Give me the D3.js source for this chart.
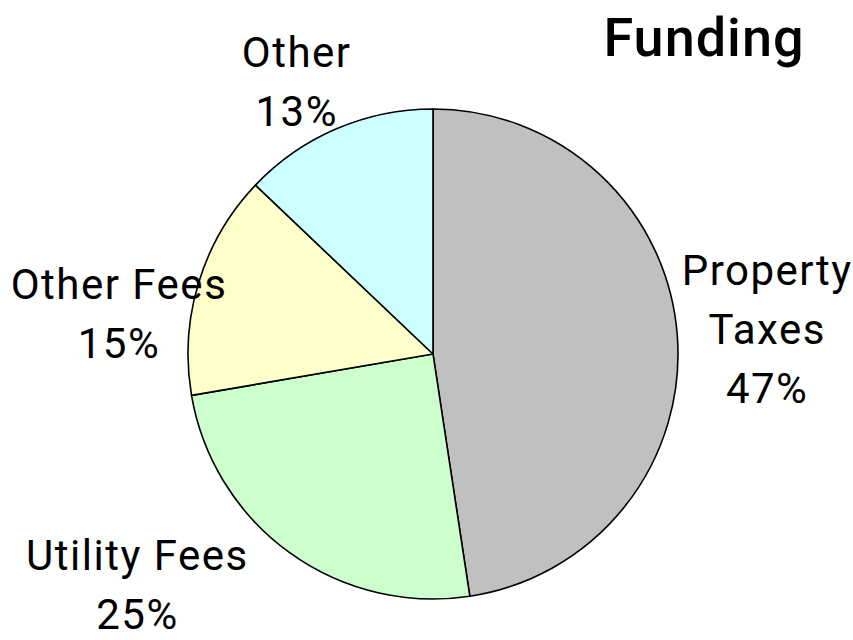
<!DOCTYPE html>
<html>
<head>
<meta charset="utf-8">
<script src="https://cdn.jsdelivr.net/npm/d3@7/dist/d3.min.js"></script>
<style>
  html, body { margin: 0; padding: 0; background: #fff; }
  svg { display: block; }
  text { font-family: Roboto, "Noto Sans", sans-serif; fill: #000; }
</style>
</head>
<body>
<svg id="chart" width="853" height="640"></svg>
<script>
// ---- data ----
const categories = ["Property Taxes", "Utility Fees", "Other Fees", "Other"];
const values = [47.6, 24.7, 14.8, 12.9];
const pctLabels = ["47%", "25%", "15%", "13%"];
const labelLines = [["Property", "Taxes"], ["Utility Fees"], ["Other Fees"], ["Other"]];
const colors = ["#C0C0C0", "#CCFFCC", "#FFFFCC", "#CCFFFF"];
const title = "Funding";

// ---- layout ----
const W = 853, H = 640;
const cx = 433, cy = 354, R = 245;
const svg = d3.select("#chart");

svg.append("text")
  .attr("x", 704).attr("y", 56)
  .attr("text-anchor", "middle")
  .style("font-weight", "500")
  .style("font-size", "54px")
  .style("letter-spacing", "1px")
  .text(title);

const pie = d3.pie().sort(null).value(d => d.value);
const arc = d3.arc().innerRadius(0).outerRadius(R);
const data = categories.map((c, i) => ({cat: c, value: values[i], color: colors[i], pct: pctLabels[i], lines: labelLines[i]}));
const arcs = pie(data);

const g = svg.append("g").attr("transform", `translate(${cx},${cy})`);
g.selectAll("path").data(arcs).enter().append("path")
  .attr("d", arc)
  .attr("fill", d => d.data.color)
  .attr("stroke", "#000")
  .attr("stroke-width", 1.6)
  .attr("stroke-linejoin", "round");

// label placement: radial direction from mid-angle, with per-slice adjustment (Excel style outside labels)
const labelAdjust = {
  "Property Taxes": {dx: 35, dy: -2, r: 300},
  "Utility Fees":   {dx: -120, dy: -13, r: 300},
  "Other Fees":     {dx: -27, dy: 47, r: 300},
  "Other":          {dx: -18, dy: 3, r: 300}
};
const lineH = 59;
arcs.forEach(a => {
  const mid = (a.startAngle + a.endAngle) / 2;
  const adj = labelAdjust[a.data.cat];
  const x = cx + adj.r * Math.sin(mid) + adj.dx;
  const y = cy - adj.r * Math.cos(mid) + adj.dy;
  const lines = a.data.lines.concat([a.data.pct]);
  const total = lines.length;
  const t = svg.append("text")
    .attr("text-anchor", "middle")
    .style("font-size", "42px")
    .style("letter-spacing", "1.5px");
  lines.forEach((ln, i) => {
    t.append("tspan")
      .attr("x", x)
      .attr("y", y + (i - (total - 1) / 2) * lineH + 15)
      .text(ln);
  });
});
</script>
</body>
</html>
